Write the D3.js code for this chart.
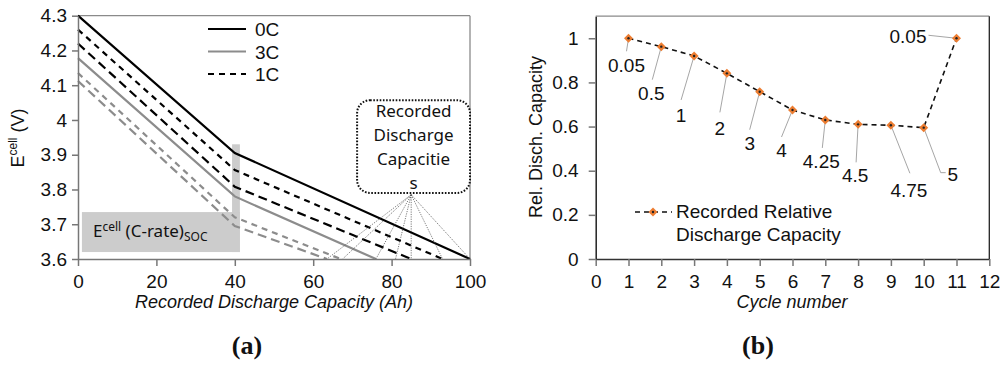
<!DOCTYPE html>
<html><head><meta charset="utf-8">
<script src="https://cdn.jsdelivr.net/npm/d3@7"></script>
<style>body{margin:0;background:#fff} svg{display:block}</style>
</head><body><svg id="c" width="1005" height="367"></svg>
<script>
// ---------- data: panel (a) ----------
const capTicks = [0, 20, 40, 60, 80, 100];
const voltTicks = [3.6, 3.7, 3.8, 3.9, 4.0, 4.1, 4.2, 4.3];
const voltTickLabels = ["3.6", "3.7", "3.8", "3.9", "4", "4.1", "4.2", "4.3"];
const curve0C_cap = [0, 40, 100],  curve0C_v = [4.30, 3.905, 3.60];
const curve1Ca_cap = [0, 40, 93],  curve1Ca_v = [4.26, 3.856, 3.60];
const curve1Cb_cap = [0, 40, 85],  curve1Cb_v = [4.22, 3.808, 3.60];
const curve3C_cap = [0, 40, 76],   curve3C_v = [4.178, 3.78, 3.60];
const curve3Ca_cap = [0, 40, 67],  curve3Ca_v = [4.135, 3.72, 3.60];
const curve3Cb_cap = [0, 40, 63.5],curve3Cb_v = [4.112, 3.695, 3.60];
const legendA = ["0C", "3C", "1C"];
const bandCap = [39.3, 41.3], bandV = [3.62, 3.93];
const boxCap = [1, 41.3], boxV = [3.62, 3.735];
const fanEnds = [63.5, 67.5, 76, 81, 85, 93, 100];
const fanApex = [85, 3.785];
const calloutCap = [71.2, 100], calloutV = [3.79, 4.057];
const calloutLines = ["Recorded", "Discharge", "Capacitie", "s"];

// ---------- data: panel (b) ----------
const cycles = [1, 2, 3, 4, 5, 6, 7, 8, 9, 10, 11];
const relCap = [1.0, 0.962, 0.92, 0.841, 0.758, 0.675, 0.63, 0.61, 0.606, 0.595, 1.0];
const cRateLabels = ["0.05", "0.5", "1", "2", "3", "4", "4.25", "4.5", "4.75", "5", "0.05"];
const cycleTicks = [0, 1, 2, 3, 4, 5, 6, 7, 8, 9, 10, 11, 12];
const relTicks = [0, 0.2, 0.4, 0.6, 0.8, 1];
const relTickLabels = ["0", "0.2", "0.4", "0.6", "0.8", "1"];

// ---------- layout (annotation offsets, px) ----------
const labelLayout = [
  {tx: -2, ty: 34, a: "middle", lead: [[0,0],[-2,13]]},
  {tx: -10, ty: 53, a: "middle", lead: [[0,0],[-9,33]]},
  {tx: -13, ty: 66, a: "middle", lead: [[0,0],[-13,44]]},
  {tx: -7, ty: 62, a: "middle", lead: [[0,0],[-7,39]]},
  {tx: -10, ty: 58, a: "middle", lead: [[0,0],[-10,38]]},
  {tx: -11, ty: 47, a: "middle", lead: [[0,0],[-11,27]]},
  {tx: -4, ty: 48, a: "middle", lead: [[0,0],[-3,28]]},
  {tx: -3, ty: 58, a: "middle", lead: [[0,0],[-2,38]]},
  {tx: 18, ty: 72, a: "middle", lead: [[0,0],[19,48]]},
  {tx: 29, ty: 53, a: "middle", lead: [[0,0],[17,45],[22,45]]},
  {tx: -30, ty: 5, a: "end", lead: [[0,0],[-28,-3]]}
];

const svg = d3.select("#c");
const SANS = "Liberation Sans, Arial, sans-serif";
const APTOS = "Noto Sans, Open Sans, sans-serif";

// ================= Panel (a) =================
const xA = d3.scaleLinear().domain([0, 100]).range([78, 470]);
const yA = d3.scaleLinear().domain([3.6, 4.3]).range([259, 15.7]);
const gA = svg.append("g");

gA.append("line").attr("x1", xA(0)).attr("x2", xA(100)).attr("y1", yA(4.3)).attr("y2", yA(4.3)).attr("stroke", "#8a8a8a").attr("stroke-width", 1.3);
gA.append("line").attr("x1", xA(100)).attr("x2", xA(100)).attr("y1", yA(4.3)).attr("y2", yA(3.6)).attr("stroke", "#8a8a8a").attr("stroke-width", 1.3);

gA.append("rect").attr("x", xA(bandCap[0])).attr("width", xA(bandCap[1]) - xA(bandCap[0]))
  .attr("y", yA(bandV[1])).attr("height", yA(bandV[0]) - yA(bandV[1])).attr("fill", "#cccccc");
gA.append("rect").attr("x", xA(boxCap[0])).attr("width", xA(boxCap[1]) - xA(boxCap[0]))
  .attr("y", yA(boxV[1])).attr("height", yA(boxV[0]) - yA(boxV[1])).attr("fill", "#cccccc");
const bt = gA.append("text").attr("x", 93).attr("y", 237).attr("font-family", APTOS).attr("font-size", 17).attr("fill", "#111");
bt.append("tspan").text("E");
bt.append("tspan").attr("font-size", 12).attr("dy", -6).text("cell");
bt.append("tspan").attr("dy", 6).text(" (C-rate)");
bt.append("tspan").attr("font-size", 12).attr("dy", 4).text("SOC");

const lineA = d3.line().x(d => xA(d[0])).y(d => yA(d[1]));
const curves = [
  {cap: curve0C_cap, v: curve0C_v, c: "#000", dash: null},
  {cap: curve1Ca_cap, v: curve1Ca_v, c: "#000", dash: "6,5"},
  {cap: curve1Cb_cap, v: curve1Cb_v, c: "#000", dash: "9,5"},
  {cap: curve3C_cap, v: curve3C_v, c: "#8c8c8c", dash: null},
  {cap: curve3Ca_cap, v: curve3Ca_v, c: "#8c8c8c", dash: "6,5"},
  {cap: curve3Cb_cap, v: curve3Cb_v, c: "#8c8c8c", dash: "9,5"}
];
curves.forEach(cv => {
  gA.append("path").datum(cv.cap.map((x, i) => [x, cv.v[i]]))
    .attr("d", lineA).attr("fill", "none").attr("stroke", cv.c).attr("stroke-width", 2.2)
    .attr("stroke-dasharray", cv.dash);
});

fanEnds.forEach(e => {
  gA.append("line").attr("x1", xA(fanApex[0])).attr("y1", yA(fanApex[1]))
    .attr("x2", xA(e)).attr("y2", yA(3.6)).attr("stroke", "#444").attr("stroke-width", 0.7)
    .attr("stroke-dasharray", "1.2,1.2");
});

gA.append("rect").attr("x", xA(calloutCap[0])).attr("y", yA(calloutV[1]))
  .attr("width", xA(calloutCap[1]) - xA(calloutCap[0])).attr("height", yA(calloutV[0]) - yA(calloutV[1]))
  .attr("rx", 13).attr("fill", "#fff").attr("stroke", "#111").attr("stroke-width", 2).attr("stroke-dasharray", "1.6,1.6");
calloutLines.forEach((t, i) => {
  gA.append("text").attr("x", (xA(calloutCap[0]) + xA(calloutCap[1])) / 2).attr("y", 117 + i * 24)
    .attr("text-anchor", "middle").attr("font-family", APTOS).attr("font-size", 17).attr("fill", "#111").text(t);
});

const axA_x = gA.append("g").attr("transform", `translate(0,${yA(3.6)})`)
  .call(d3.axisBottom(xA).tickValues(capTicks).tickSize(7).tickPadding(9).tickSizeOuter(0));
const axA_y = gA.append("g").attr("transform", `translate(${xA(0)},0)`)
  .call(d3.axisLeft(yA).tickValues(voltTicks).tickFormat((d, i) => voltTickLabels[i]).tickSize(6).tickPadding(5).tickSizeOuter(0));
[axA_x, axA_y].forEach(a => {
  a.attr("font-family", SANS).attr("font-size", 19);
  a.selectAll("path,line").attr("stroke", "#777").attr("stroke-width", 1.5);
  a.selectAll("text").attr("fill", "#111");
});

const legStyles = [{c: "#000", dash: null}, {c: "#8c8c8c", dash: null}, {c: "#000", dash: "6,5"}];
legendA.forEach((t, i) => {
  const y = 29 + i * 22.5;
  gA.append("line").attr("x1", 208).attr("x2", 246).attr("y1", y).attr("y2", y)
    .attr("stroke", legStyles[i].c).attr("stroke-width", 2.2).attr("stroke-dasharray", legStyles[i].dash);
  gA.append("text").attr("x", 255).attr("y", y + 7).attr("font-family", SANS).attr("font-size", 19).attr("fill", "#111").text(t);
});

gA.append("text").attr("x", 274).attr("y", 308).attr("text-anchor", "middle").attr("font-family", SANS)
  .attr("font-style", "italic").attr("font-size", 18).attr("fill", "#111").text("Recorded Discharge Capacity (Ah)");
const yt = gA.append("text").attr("transform", "translate(24,138) rotate(-90)").attr("text-anchor", "middle")
  .attr("font-family", SANS).attr("font-size", 18).attr("fill", "#111");
yt.append("tspan").text("E");
yt.append("tspan").attr("font-size", 12).attr("dy", -7).text("cell");
yt.append("tspan").attr("dy", 7).text(" (V)");
gA.append("text").attr("x", 247).attr("y", 354).attr("text-anchor", "middle").attr("font-family", "Liberation Serif, DejaVu Serif, serif")
  .attr("font-weight", "bold").attr("font-size", 26).attr("fill", "#111").text("(a)");

// ================= Panel (b) =================
const xB = d3.scaleLinear().domain([0, 12]).range([595.7, 989.3]);
const yB = d3.scaleLinear().domain([0, 1.1]).range([259, 16.2]);
const gB = svg.append("g");
gB.append("line").attr("x1", xB(0)).attr("x2", xB(12)).attr("y1", yB(1.1)).attr("y2", yB(1.1)).attr("stroke", "#8a8a8a").attr("stroke-width", 1.3);
gB.append("line").attr("x1", xB(12)).attr("x2", xB(12)).attr("y1", yB(1.1)).attr("y2", yB(0)).attr("stroke", "#222").attr("stroke-width", 1.3);

const axB_x = gB.append("g").attr("transform", `translate(0,${yB(0)})`)
  .call(d3.axisBottom(xB).tickValues(cycleTicks).tickSize(7).tickPadding(9).tickSizeOuter(0));
const axB_y = gB.append("g").attr("transform", `translate(${xB(0)},0)`)
  .call(d3.axisLeft(yB).tickValues(relTicks).tickFormat((d, i) => relTickLabels[i]).tickSize(7).tickPadding(10).tickSizeOuter(0));
axB_x.selectAll("path").attr("stroke", "#333").attr("stroke-width", 1.5);
axB_x.selectAll("line").attr("stroke", "#777").attr("stroke-width", 1.5);
axB_y.selectAll("path").attr("stroke", "#222").attr("stroke-width", 1.5);
axB_y.selectAll("line").attr("stroke", "#777").attr("stroke-width", 1.5);
[axB_x, axB_y].forEach(a => { a.attr("font-family", SANS).attr("font-size", 19); a.selectAll("text").attr("fill", "#111"); });

cycles.forEach((c, i) => {
  const px = xB(c), py = yB(relCap[i]), L = labelLayout[i];
  gB.append("polyline").attr("points", L.lead.map(p => `${px + p[0]},${py + p[1]}`).join(" "))
    .attr("fill", "none").attr("stroke", "#a6a6a6").attr("stroke-width", 1);
  gB.append("text").attr("x", px + L.tx).attr("y", py + L.ty).attr("text-anchor", L.a)
    .attr("font-family", SANS).attr("font-size", 19).attr("fill", "#111").text(cRateLabels[i]);
});

const lineB = d3.line().x(d => xB(d)).y((d, i) => yB(relCap[i]));
gB.append("path").attr("d", lineB(cycles)).attr("fill", "none").attr("stroke", "#111")
  .attr("stroke-width", 1.6).attr("stroke-dasharray", "5,4");

function marker(g, x, y) {
  g.append("path").attr("d", `M${x},${y - 4.5}L${x + 4.5},${y}L${x},${y + 4.5}L${x - 4.5},${y}Z`).attr("fill", "#ed7d31");
  g.append("circle").attr("cx", x).attr("cy", y).attr("r", 1.2).attr("fill", "#222");
}
cycles.forEach((c, i) => marker(gB, xB(c), yB(relCap[i])));

gB.append("line").attr("x1", 635).attr("x2", 672).attr("y1", 212).attr("y2", 212).attr("stroke", "#111")
  .attr("stroke-width", 1.6).attr("stroke-dasharray", "5,4");
marker(gB, 653, 212);
gB.append("text").attr("x", 676).attr("y", 218).attr("font-family", SANS).attr("font-size", 19).attr("fill", "#111").text("Recorded Relative");
gB.append("text").attr("x", 676).attr("y", 241).attr("font-family", SANS).attr("font-size", 19).attr("fill", "#111").text("Discharge Capacity");

gB.append("text").attr("x", 792).attr("y", 308).attr("text-anchor", "middle").attr("font-family", SANS)
  .attr("font-style", "italic").attr("font-size", 18).attr("fill", "#111").text("Cycle number");
gB.append("text").attr("transform", "translate(542,137) rotate(-90)").attr("text-anchor", "middle")
  .attr("font-family", SANS).attr("font-size", 18).attr("fill", "#111").text("Rel. Disch. Capacity");
gB.append("text").attr("x", 758).attr("y", 354).attr("text-anchor", "middle").attr("font-family", "Liberation Serif, DejaVu Serif, serif")
  .attr("font-weight", "bold").attr("font-size", 26).attr("fill", "#111").text("(b)");
</script></body></html>
